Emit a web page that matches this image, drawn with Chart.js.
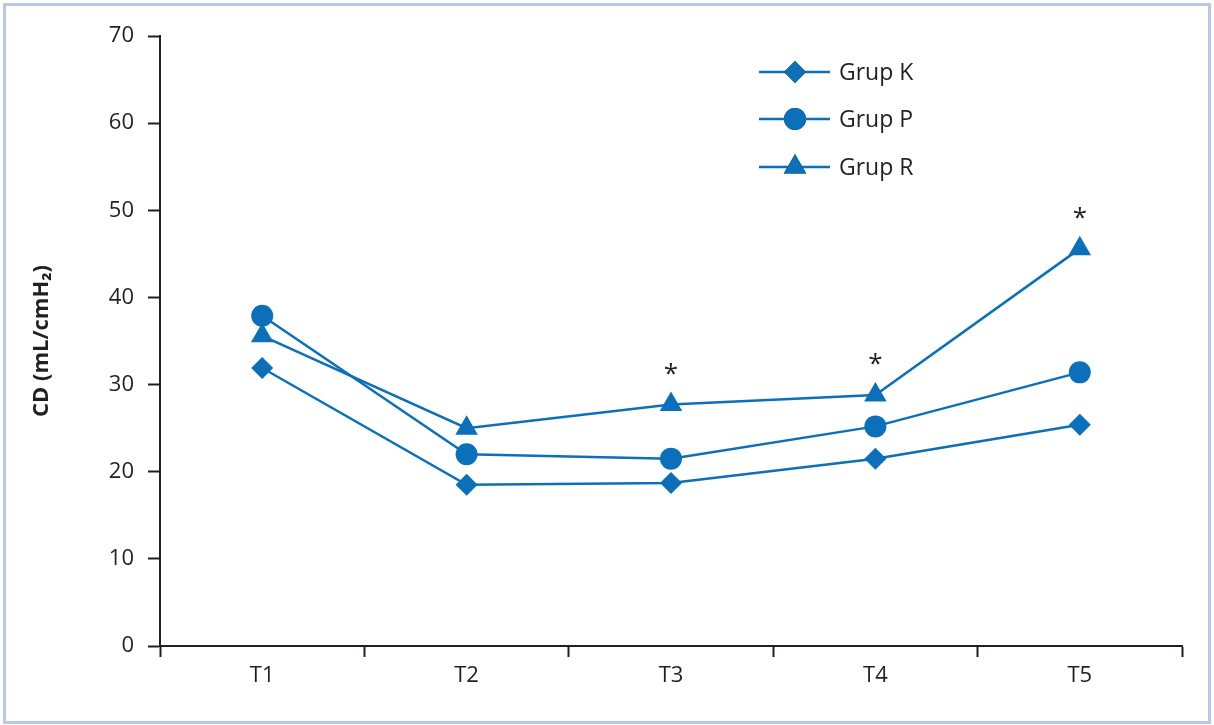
<!DOCTYPE html>
<html>
<head>
<meta charset="utf-8">
<script src="https://cdn.jsdelivr.net/npm/chart.js@4/dist/chart.umd.min.js"></script>
<style>
  html, body { margin: 0; padding: 0; background: #fff; }
  #wrap { position: relative; width: 1214px; height: 725px; }
</style>
</head>
<body>
<div id="wrap"><canvas id="cdChart" width="1214" height="725"></canvas></div>
<script>
// Data
const timePoints = ['T1', 'T2', 'T3', 'T4', 'T5'];
const grupK = [31.9, 18.5, 18.7, 21.5, 25.4];
const grupP = [37.9, 22.0, 21.5, 25.2, 31.4];
const grupR = [35.6, 25.0, 27.7, 28.8, 45.6];
const grupRMarks = ['', '', '*', '*', '*'];
const yTicks = [0, 10, 20, 30, 40, 50, 60, 70];

const blue = '#0b70b9';
const ink = '#231f20';
const font = "'Open Sans', 'Noto Sans', sans-serif";

function series(label, data, pointStyle, radius) {
    return {
        label: label,
        data: data,
        borderColor: blue,
        backgroundColor: blue,
        borderWidth: 2.5,
        pointStyle: pointStyle,
        pointRadius: radius,
        pointHoverRadius: radius,
        pointBorderWidth: 0,
        tension: 0
    };
}

// Frame, custom legend and significance asterisks
const extras = {
    id: 'extras',
    beforeDraw(chart) {
        const ctx = chart.ctx;
        ctx.save();
        ctx.strokeStyle = '#b6c9e8';
        ctx.lineWidth = 3;
        ctx.strokeRect(4.5, 4.5, 1205, 718);
        ctx.restore();
    },
    afterDatasetsDraw(chart) {
        const ctx = chart.ctx;
        ctx.save();

        // asterisks above Grup R
        const meta = chart.getDatasetMeta(2);
        ctx.fillStyle = ink;
        ctx.font = '26px ' + font;
        ctx.textAlign = 'center';
        ctx.textBaseline = 'middle';
        meta.data.forEach((pt, i) => {
            if (grupRMarks[i]) ctx.fillText(grupRMarks[i], pt.x, pt.y - 30);
        });

        // legend
        const rows = [72, 119, 167];
        chart.data.datasets.forEach((ds, i) => {
            const y = rows[i];
            ctx.strokeStyle = ds.borderColor;
            ctx.lineWidth = ds.borderWidth;
            ctx.beginPath();
            ctx.moveTo(759, y);
            ctx.lineTo(830, y);
            ctx.stroke();
            Chart.helpers.drawPoint(ctx, {
                pointStyle: ds.pointStyle,
                radius: ds.pointRadius,
                borderWidth: 0
            }, 795, y);
            ctx.fillStyle = ds.backgroundColor;
            ctx.fill();
            ctx.fillStyle = ink;
            ctx.font = '23px ' + font;
            ctx.textAlign = 'left';
            ctx.fillText(ds.label, 839, y + 1);
        });
        ctx.restore();
    }
};

const ctx = document.getElementById('cdChart').getContext('2d');
new Chart(ctx, {
    type: 'line',
    data: {
        labels: timePoints,
        datasets: [
            series('Grup K', grupK, 'rectRot', 11),
            series('Grup P', grupP, 'circle', 11),
            series('Grup R', grupR, 'triangle', 13)
        ]
    },
    options: {
        responsive: false,
        animation: false,
        layout: { padding: { left: 0, top: 36, right: 32, bottom: 30 } },
        plugins: {
            legend: { display: false },
            tooltip: { enabled: false }
        },
        scales: {
            x: {
                offset: true,
                grid: { offset: true, drawOnChartArea: false, tickLength: 11, color: ink, tickWidth: 2 },
                border: { color: ink, width: 2 },
                ticks: { color: ink, font: { family: font, size: 22 }, padding: 6 },
                afterFit(scale) { scale.height = 49; }
            },
            y: {
                min: 0,
                max: 70,
                afterBuildTicks(scale) { scale.ticks = yTicks.map(v => ({ value: v })); },
                grid: { drawOnChartArea: false, tickLength: 12, color: ink, tickWidth: 2 },
                border: { color: ink, width: 2 },
                ticks: { color: ink, font: { family: font, size: 22 }, padding: 14 },
                title: {
                    display: true,
                    text: 'CD (mL/cmH\u2082)',
                    color: ink,
                    font: { family: font, size: 22, weight: 'bold' },
                    padding: { top: 29, bottom: 0 }
                },
                afterFit(scale) { scale.width = 160; }
            }
        }
    },
    plugins: [extras]
});
</script>
</body>
</html>
